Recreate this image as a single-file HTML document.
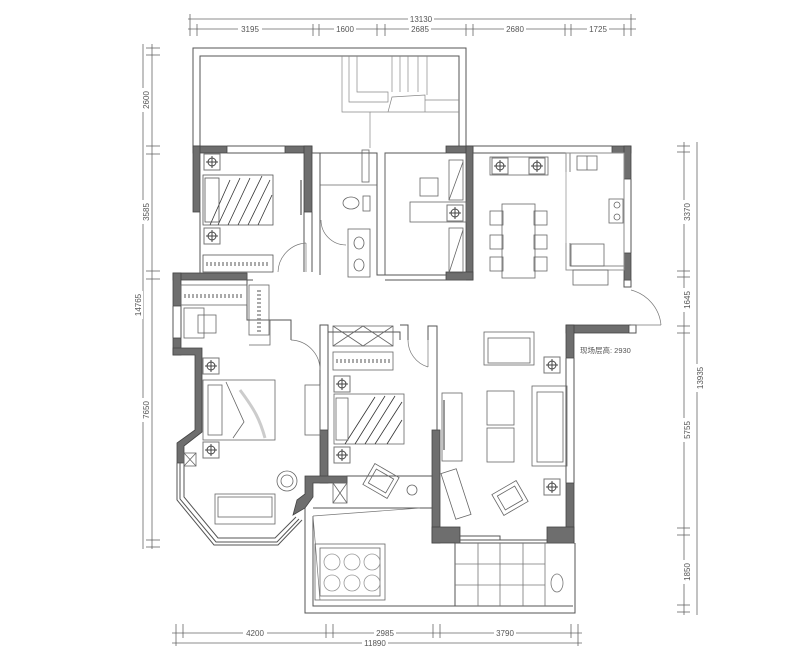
<!DOCTYPE html>
<html><head><meta charset="utf-8"><style>
html,body{margin:0;padding:0;background:#fff;}
svg{display:block;}
text{font-family:"Liberation Sans","Noto Sans CJK SC",sans-serif;fill:#555;}
</style></head><body>
<svg width="800" height="660" viewBox="0 0 800 660" xmlns="http://www.w3.org/2000/svg">
<defs>
<g id="lamp"><rect x="-8" y="-8" width="16" height="16" fill="#fff" stroke="#777" stroke-width="1"/><circle r="4" fill="none" stroke="#444"/><line x1="-6" y1="0" x2="6" y2="0" stroke="#444"/><line x1="0" y1="-6" x2="0" y2="6" stroke="#444"/></g>
</defs>
<g stroke="#666" stroke-width="0.8" fill="none">
<line x1="188" y1="19" x2="636" y2="19"/>
<line x1="188" y1="29" x2="636" y2="29"/>
<line x1="190" y1="14" x2="190" y2="36"/><line x1="197" y1="24" x2="197" y2="36"/>
<line x1="313" y1="24" x2="313" y2="36"/><line x1="319" y1="24" x2="319" y2="36"/>
<line x1="377" y1="24" x2="377" y2="36"/><line x1="385" y1="24" x2="385" y2="36"/>
<line x1="466" y1="24" x2="466" y2="36"/><line x1="473" y1="24" x2="473" y2="36"/>
<line x1="565" y1="24" x2="565" y2="36"/><line x1="571" y1="24" x2="571" y2="36"/>
<line x1="624" y1="24" x2="624" y2="36"/><line x1="631" y1="14" x2="631" y2="36"/>
<line x1="143" y1="44" x2="143" y2="549"/>
<line x1="152" y1="44" x2="152" y2="549"/>
<line x1="146" y1="48" x2="160" y2="48"/><line x1="146" y1="55" x2="160" y2="55"/>
<line x1="146" y1="146" x2="160" y2="146"/><line x1="146" y1="154" x2="160" y2="154"/>
<line x1="146" y1="271" x2="160" y2="271"/><line x1="146" y1="279" x2="160" y2="279"/>
<line x1="146" y1="540" x2="160" y2="540"/><line x1="146" y1="547" x2="160" y2="547"/>
<line x1="684" y1="142" x2="684" y2="615"/>
<line x1="697" y1="142" x2="697" y2="615"/>
<line x1="677" y1="146" x2="690" y2="146"/><line x1="677" y1="152" x2="690" y2="152"/>
<line x1="677" y1="271" x2="690" y2="271"/><line x1="677" y1="277" x2="690" y2="277"/>
<line x1="677" y1="326" x2="690" y2="326"/><line x1="677" y1="333" x2="690" y2="333"/>
<line x1="677" y1="528" x2="690" y2="528"/><line x1="677" y1="535" x2="690" y2="535"/>
<line x1="677" y1="605" x2="690" y2="605"/><line x1="677" y1="612" x2="690" y2="612"/>
<line x1="172" y1="633" x2="582" y2="633"/>
<line x1="172" y1="643" x2="582" y2="643"/>
<line x1="176" y1="624" x2="176" y2="646"/><line x1="183" y1="624" x2="183" y2="638"/>
<line x1="326" y1="624" x2="326" y2="638"/><line x1="333" y1="624" x2="333" y2="638"/>
<line x1="433" y1="624" x2="433" y2="638"/><line x1="440" y1="624" x2="440" y2="638"/>
<line x1="571" y1="624" x2="571" y2="638"/><line x1="578" y1="624" x2="578" y2="646"/>
</g>
<g font-size="8" text-anchor="middle">
<rect x="408" y="14" width="26" height="10" fill="#fff"/><text x="421" y="22">13130</text>
<rect x="238" y="24" width="24" height="10" fill="#fff"/><text x="250" y="32">3195</text>
<rect x="334" y="24" width="22" height="10" fill="#fff"/><text x="345" y="32">1600</text>
<rect x="409" y="24" width="22" height="10" fill="#fff"/><text x="420" y="32">2685</text>
<rect x="504" y="24" width="22" height="10" fill="#fff"/><text x="515" y="32">2680</text>
<rect x="587" y="24" width="22" height="10" fill="#fff"/><text x="598" y="32">1725</text>
<rect x="243" y="628" width="24" height="10" fill="#fff"/><text x="255" y="636">4200</text>
<rect x="374" y="628" width="22" height="10" fill="#fff"/><text x="385" y="636">2985</text>
<rect x="494" y="628" width="22" height="10" fill="#fff"/><text x="505" y="636">3790</text>
<rect x="362" y="638" width="26" height="10" fill="#fff"/><text x="375" y="646">11890</text>
<g transform="translate(146,100) rotate(-90)"><rect x="-12" y="-5" width="24" height="10" fill="#fff"/><text y="3">2600</text></g>
<g transform="translate(146,212) rotate(-90)"><rect x="-12" y="-5" width="24" height="10" fill="#fff"/><text y="3">3585</text></g>
<g transform="translate(146,410) rotate(-90)"><rect x="-12" y="-5" width="24" height="10" fill="#fff"/><text y="3">7650</text></g>
<g transform="translate(138,305) rotate(-90)"><rect x="-14" y="-5" width="28" height="10" fill="#fff"/><text y="3">14765</text></g>
<g transform="translate(687,212) rotate(-90)"><rect x="-12" y="-5" width="24" height="10" fill="#fff"/><text y="3">3370</text></g>
<g transform="translate(687,300) rotate(-90)"><rect x="-12" y="-5" width="24" height="10" fill="#fff"/><text y="3">1645</text></g>
<g transform="translate(687,430) rotate(-90)"><rect x="-12" y="-5" width="24" height="10" fill="#fff"/><text y="3">5755</text></g>
<g transform="translate(687,572) rotate(-90)"><rect x="-12" y="-5" width="24" height="10" fill="#fff"/><text y="3">1850</text></g>
<g transform="translate(700,378) rotate(-90)"><rect x="-14" y="-5" width="28" height="10" fill="#fff"/><text y="3">13935</text></g>
</g>

<g stroke="#555" stroke-width="1" fill="none">
<path d="M193 148 V48 H466 V148"/>
<path d="M200 148 V56 H459 V148"/>
<g stroke="#888" stroke-width="0.7">
<path d="M342 56 V112 H370 V148"/>
<path d="M349 56 V102 H388 V92 H357 V56"/>
<line x1="392" y1="56" x2="392" y2="92"/><line x1="400" y1="56" x2="400" y2="92"/><line x1="408" y1="56" x2="408" y2="92"/><line x1="418" y1="56" x2="418" y2="92"/><line x1="427" y1="56" x2="427" y2="95"/>
<path d="M388 112 L392 97 L425 95 V112"/><line x1="425" y1="100" x2="459" y2="100"/><line x1="370" y1="112" x2="459" y2="112"/>
</g>
</g>

<g fill="#6e6e6e" stroke="#444" stroke-width="0.8">
<rect x="193" y="146" width="34" height="7"/>
<rect x="193" y="146" width="7" height="66"/>
<rect x="285" y="146" width="27" height="7"/>
<rect x="304" y="146" width="8" height="66"/>
<rect x="446" y="146" width="27" height="7"/>
<rect x="466" y="146" width="7" height="134"/>
<rect x="446" y="272" width="27" height="8"/>
<rect x="612" y="146" width="19" height="7"/>
<rect x="624" y="146" width="7" height="33"/>
<rect x="624" y="253" width="7" height="27"/>
<rect x="173" y="273" width="74" height="7"/>
<rect x="173" y="273" width="8" height="33"/>
<rect x="173" y="338" width="8" height="17"/>
<path d="M173 348 H202 V432 L184 446 V463 H177 V443 L195 430 V355 H173 Z"/>
<rect x="566" y="325" width="63" height="8"/>
<rect x="566" y="325" width="8" height="33"/>
<rect x="566" y="483" width="8" height="60"/>
<rect x="547" y="527" width="27" height="16"/>
<rect x="432" y="430" width="8" height="113"/>
<rect x="432" y="527" width="28" height="16"/>
<rect x="320" y="430" width="8" height="53"/>
<path d="M305 476 H347 V483 H313 V497 L305 508 L293 515 L297 500 L305 494 Z"/>
</g>

<g stroke="#555" stroke-width="1" fill="none">
<line x1="227" y1="146" x2="285" y2="146"/><line x1="227" y1="153" x2="285" y2="153"/>
<line x1="473" y1="146" x2="612" y2="146"/><line x1="473" y1="153" x2="612" y2="153"/>
<line x1="631" y1="179" x2="631" y2="253"/><line x1="624" y1="179" x2="624" y2="253"/>
<line x1="173" y1="306" x2="173" y2="338"/><line x1="181" y1="306" x2="181" y2="338"/>
<path d="M312 212 V272 M304 212 V272 M200 212 V273"/>
<path d="M312 153 H377 V275 H385 V153 H446"/>
<path d="M320 153 V275"/>
<path d="M385 275 H446 M385 280 H466"/>
<path d="M247 273 V320 H291 V340 M247 280 H253"/>
<path d="M320 340 V325 H328 V430 M328 332 H400 V340 M400 325 H408 V340"/>
<path d="M428 340 V326 H437 V430"/>
<path d="M320 340 V430"/>
<path d="M177 463 V500 L214 545 H278 L302 520"/>
<path d="M184 463 V497 L218 538 H275 L296 517"/>
<path d="M180 463 V499 L216 542 H277 L299 519"/>
<path d="M305 508 V613 H575 V543"/>
<path d="M313 508 H432 M313 516 V606 H455"/>
<path d="M347 483 V476 H432"/>
<path d="M455 543 V606 H573 M455 543 H573"/>
<path d="M460 540 H547 M460 536 H500 V540"/>
<path d="M574 358 V483 M566 358 V483"/>
<path d="M629 333 H636 V325 H629"/>
<path d="M624 280 H631 V287 H624 Z"/>
</g>
<g stroke="#777" stroke-width="0.7" fill="none">
<path d="M278 272 A30 30 0 0 1 306 243"/><line x1="306" y1="243" x2="306" y2="272"/>
<path d="M321 220 A25 25 0 0 0 346 245"/>
<path d="M291 340 A30 30 0 0 1 320 370"/>
<path d="M408 340 A28 28 0 0 0 428 367"/><line x1="428" y1="340" x2="428" y2="367"/>
<path d="M631 290 A40 40 0 0 1 661 325"/><line x1="631" y1="325" x2="661" y2="325"/>
<line x1="313" y1="516" x2="420" y2="508"/><line x1="313" y1="516" x2="320" y2="600"/>
</g>

<g stroke="#555" stroke-width="0.8" fill="none">
<rect x="203" y="175" width="70" height="50"/>
<path d="M210 225 L230 180 M218 225 L240 178 M228 225 L250 178 M238 225 L262 176 M248 225 L270 180 M258 225 L272 195" stroke="#333"/>
<rect x="205" y="178" width="14" height="44"/>
<line x1="301" y1="180" x2="301" y2="215" stroke="#999" stroke-width="2"/>
<rect x="203" y="255" width="70" height="17"/>
<path d="M206 264 h64" stroke="#aaa" stroke-dasharray="2 2" stroke-width="4"/>
</g>
<use href="#lamp" x="212" y="162"/><use href="#lamp" x="212" y="236"/>

<g stroke="#666" stroke-width="0.8" fill="none">
<ellipse cx="351" cy="203" rx="8" ry="6"/><rect x="363" y="196" width="7" height="15"/>
<rect x="348" y="229" width="22" height="48"/><ellipse cx="359" cy="243" rx="5" ry="6"/><ellipse cx="359" cy="265" rx="5" ry="6"/>
<line x1="320" y1="185" x2="377" y2="185"/>
<rect x="362" y="150" width="7" height="32"/>
</g>

<g stroke="#666" stroke-width="0.8" fill="none">
<rect x="410" y="202" width="56" height="20"/>
<rect x="420" y="178" width="18" height="18"/>
<rect x="449" y="160" width="14" height="40"/><line x1="449" y1="200" x2="463" y2="162"/>
<rect x="449" y="228" width="14" height="45"/><line x1="449" y1="273" x2="463" y2="230"/>
<line x1="385" y1="153" x2="385" y2="275"/>
</g>
<use href="#lamp" x="455" y="213"/>

<g stroke="#666" stroke-width="0.8" fill="none">
<rect x="490" y="157" width="58" height="18"/>
<rect x="502" y="204" width="33" height="74"/>
<rect x="490" y="211" width="13" height="14"/><rect x="490" y="235" width="13" height="14"/><rect x="490" y="257" width="13" height="14"/>
<rect x="534" y="211" width="13" height="14"/><rect x="534" y="235" width="13" height="14"/><rect x="534" y="257" width="13" height="14"/>
</g>
<use href="#lamp" x="500" y="166"/><use href="#lamp" x="537" y="166"/>

<g stroke="#666" stroke-width="0.8" fill="none">
<path d="M566 172 V153 H570 V172 M566 243 V270 H624 M570 243 V266 H624"/>
<rect x="566" y="153" width="58" height="117" stroke="#999"/>
<rect x="577" y="156" width="20" height="14"/><line x1="587" y1="156" x2="587" y2="170"/>
<rect x="571" y="244" width="33" height="22"/>
<rect x="573" y="270" width="35" height="15"/>
<rect x="609" y="199" width="14" height="24"/><circle cx="617" cy="205" r="3"/><circle cx="617" cy="217" r="3"/>
</g>

<g stroke="#666" stroke-width="0.8" fill="none">
<rect x="181" y="285" width="66" height="20"/><path d="M184 296 h60" stroke="#aaa" stroke-dasharray="2 2" stroke-width="4"/>
<rect x="249" y="285" width="20" height="50"/><path d="M259 290 v42" stroke="#aaa" stroke-dasharray="2 2" stroke-width="4"/>
<path d="M249 320 H270 V345 H249"/>
<rect x="184" y="308" width="20" height="30"/>
<rect x="198" y="315" width="18" height="18"/>
<rect x="203" y="380" width="72" height="60"/>
<rect x="208" y="385" width="14" height="50"/>
<path d="M226 382 L244 422 L233 438"/>
<path d="M240 390 C255 410 260 420 265 438" stroke="#ccc" stroke-width="3"/>
<rect x="305" y="385" width="15" height="50"/>
<rect x="215" y="494" width="60" height="30"/><rect x="218" y="497" width="54" height="20"/>
<circle cx="287" cy="481" r="10"/><circle cx="287" cy="481" r="6"/>
<rect x="184" y="453" width="12" height="13"/><path d="M184 453 L196 466 M196 453 L184 466"/>
</g>
<use href="#lamp" x="211" y="366"/><use href="#lamp" x="211" y="450"/>

<g stroke="#666" stroke-width="0.8" fill="none">
<rect x="333" y="326" width="60" height="20"/><path d="M333 326 L363 346 M363 326 L333 346 M363 326 L393 346 M393 326 L363 346"/>
<rect x="333" y="352" width="60" height="18"/><path d="M336 361 h54" stroke="#aaa" stroke-dasharray="2 2" stroke-width="4"/>
<rect x="334" y="394" width="70" height="50"/>
<path d="M345 444 L375 397 M355 444 L385 396 M365 444 L395 396 M375 444 L402 402 M387 444 L402 420" stroke="#333"/>
<rect x="336" y="398" width="12" height="42"/>
<rect x="333" y="483" width="14" height="20"/><path d="M333 483 L347 503 M347 483 L333 503"/>
<g transform="translate(381,481) rotate(30)"><rect x="-14" y="-12" width="28" height="24"/><rect x="-10" y="-8" width="20" height="16"/></g>
<circle cx="412" cy="490" r="5"/>
</g>
<use href="#lamp" x="342" y="384"/><use href="#lamp" x="342" y="455"/>

<g stroke="#666" stroke-width="0.8" fill="none">
<rect x="484" y="332" width="50" height="33"/><rect x="488" y="338" width="42" height="25"/>
<rect x="532" y="386" width="35" height="80"/><rect x="537" y="392" width="26" height="70"/>
<rect x="487" y="391" width="27" height="34"/><rect x="487" y="428" width="27" height="34"/>
<rect x="442" y="393" width="20" height="68"/><line x1="444" y1="400" x2="444" y2="450" stroke="#999" stroke-width="2"/>
<g transform="translate(456,494) rotate(-18)"><rect x="-8" y="-24" width="16" height="48"/></g>
<g transform="translate(510,498) rotate(-30)"><rect x="-14" y="-12" width="28" height="24"/><rect x="-10" y="-8" width="20" height="16"/></g>
</g>
<use href="#lamp" x="552" y="365"/><use href="#lamp" x="552" y="487"/>
<text x="580" y="353" font-size="7.5" fill="#333">现场层高: 2930</text>

<g stroke="#666" stroke-width="0.8" fill="none">
<rect x="315" y="544" width="70" height="56"/><rect x="320" y="548" width="60" height="48"/>
<g stroke="#999">
<circle cx="332" cy="562" r="8"/><circle cx="352" cy="562" r="8"/><circle cx="372" cy="562" r="8"/>
<circle cx="332" cy="583" r="8"/><circle cx="352" cy="583" r="8"/><circle cx="372" cy="583" r="8"/>
</g>
<g stroke="#777">
<line x1="478" y1="543" x2="478" y2="606"/><line x1="500" y1="543" x2="500" y2="606"/><line x1="523" y1="543" x2="523" y2="606"/><line x1="545" y1="543" x2="545" y2="606"/>
<line x1="455" y1="564" x2="545" y2="564"/><line x1="455" y1="585" x2="545" y2="585"/>
<ellipse cx="557" cy="583" rx="6" ry="9"/>
</g>
</g>
</svg>
</body></html>
